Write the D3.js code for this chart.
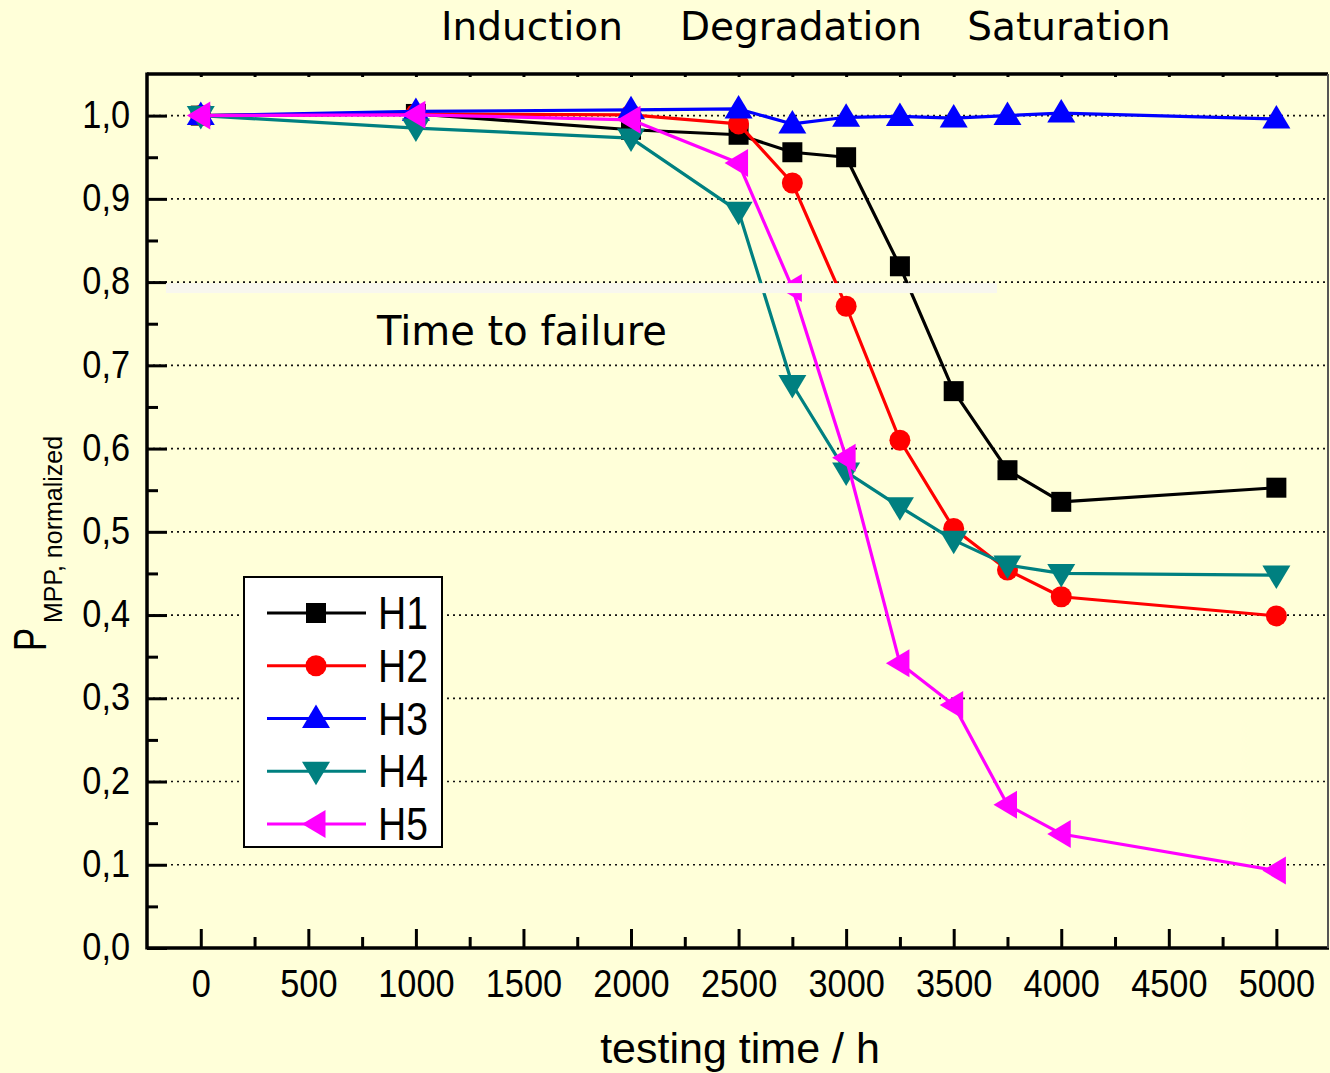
<!DOCTYPE html>
<html><head><meta charset="utf-8">
<script src="https://cdn.jsdelivr.net/npm/d3@7"></script>
<style>body{margin:0;background:#ffffd9;} svg{display:block;}</style>
</head><body>
<svg id="chart" width="1330" height="1073"></svg>
<script>
// ---- data ----
const times = [0, 1000, 2000, 2500, 2750, 3000, 3250, 3500, 3750, 4000, 5000];
const seriesNames = ["H1", "H2", "H3", "H4", "H5"];
const h1 = [1.000, 1.002, 0.983, 0.977, 0.956, 0.950, 0.819, 0.669, 0.574, 0.536, 0.553];
const h2 = [1.000, 1.002, 1.001, 0.990, 0.919, 0.771, 0.610, 0.504, 0.454, 0.422, 0.399];
const h3 = [1.000, 1.005, 1.007, 1.008, 0.990, 0.998, 0.999, 0.997, 1.000, 1.003, 0.996];
const h4 = [1.000, 0.985, 0.973, 0.885, 0.677, 0.572, 0.530, 0.490, 0.460, 0.450, 0.448];
const h5 = [1.000, 1.001, 0.995, 0.943, 0.793, 0.589, 0.342, 0.292, 0.172, 0.137, 0.093];
const seriesValues = [h1, h2, h3, h4, h5];
const seriesColors = ["#000000", "#ff0000", "#0000ff", "#008080", "#ff00ff"];
const seriesShapes = ["square", "circle", "up", "down", "left"];
const xMajorTicks = [0, 500, 1000, 1500, 2000, 2500, 3000, 3500, 4000, 4500, 5000];
const xMinorTicks = [250, 750, 1250, 1750, 2250, 2750, 3250, 3750, 4250, 4750];
const yMajorTicks = [0, 0.1, 0.2, 0.3, 0.4, 0.5, 0.6, 0.7, 0.8, 0.9, 1.0];
const yMinorTicks = [0.05, 0.15, 0.25, 0.35, 0.45, 0.55, 0.65, 0.75, 0.85, 0.95];
const phaseLabels = ["Induction", "Degradation", "Saturation"];
const annotationText = "Time to failure";
const xTitle = "testing time / h";
const yTitleMain = "P";
const yTitleSub = "MPP, normalized";

// ---- layout ----
const L = 147, R = 1328, T = 74, B = 948;
const svg = d3.select("#chart");
svg.append("rect").attr("width", 1330).attr("height", 1073).attr("fill", "#ffffd9");

const x = d3.scaleLinear().domain([-250, 5240]).range([L, R]);
const y = d3.scaleLinear().domain([0, 1.05]).range([B, T]);

function condense(sel, f) {
  sel.each(function () {
    const w = this.getComputedTextLength();
    this.setAttribute("textLength", w * f);
    this.setAttribute("lengthAdjust", "spacingAndGlyphs");
  });
}

// grid lines
svg.append("g").selectAll("line").data(yMajorTicks.filter(d => d > 0)).join("line")
  .attr("x1", L).attr("x2", R).attr("y1", d => y(d)).attr("y2", d => y(d))
  .attr("stroke", "#111").attr("stroke-width", 1.7).attr("stroke-dasharray", "2,4");

// axes
const fmt = d => d3.format(".1f")(d).replace(".", ",");
const gx = svg.append("g").attr("transform", `translate(0,${B})`)
  .call(d3.axisBottom(x).tickValues(xMajorTicks).tickSizeInner(-19).tickSizeOuter(0).tickPadding(21).tickFormat(d3.format("d")));
const gxm = svg.append("g").attr("transform", `translate(0,${B})`)
  .call(d3.axisBottom(x).tickValues(xMinorTicks).tickSizeInner(-11).tickSizeOuter(0).tickFormat(""));
const gy = svg.append("g").attr("transform", `translate(${L},0)`)
  .call(d3.axisLeft(y).tickValues(yMajorTicks).tickSizeInner(-20).tickSizeOuter(0).tickPadding(17).tickFormat(fmt));
const gym = svg.append("g").attr("transform", `translate(${L},0)`)
  .call(d3.axisLeft(y).tickValues(yMinorTicks).tickSizeInner(-11).tickSizeOuter(0).tickFormat(""));
const gtop = svg.append("g").attr("transform", `translate(0,${T})`)
  .call(d3.axisTop(x).tickValues(xMajorTicks.concat(xMinorTicks)).tickSizeInner(-3).tickSizeOuter(0).tickFormat(""));

[gx, gxm, gy, gym, gtop].forEach(g => {
  g.selectAll(".tick line").attr("stroke", "#000").attr("stroke-width", 3);
  g.select(".domain").remove();
});
gx.selectAll(".tick text").attr("font-family", "Liberation Sans, Arial, sans-serif")
  .attr("font-size", 39).attr("fill", "#000").attr("dy", "0.71em");
gy.selectAll(".tick text").attr("font-family", "Liberation Sans, Arial, sans-serif")
  .attr("font-size", 39).attr("fill", "#000").attr("dy", "0.3em");
condense(gx.selectAll(".tick text"), 0.88);
condense(gy.selectAll(".tick text"), 0.88);

// frame
svg.append("line").attr("x1", L).attr("x2", R).attr("y1", T).attr("y2", T).attr("stroke", "#000").attr("stroke-width", 3.5);
svg.append("line").attr("x1", L).attr("x2", R + 1).attr("y1", B).attr("y2", B).attr("stroke", "#000").attr("stroke-width", 3.5);
svg.append("line").attr("x1", L).attr("x2", L).attr("y1", T - 1.5).attr("y2", B + 1.5).attr("stroke", "#000").attr("stroke-width", 3.5);
svg.append("line").attr("x1", R).attr("x2", R).attr("y1", T).attr("y2", B).attr("stroke", "#555").attr("stroke-width", 2);

// markers
function markerPath(shape) {
  switch (shape) {
    case "square": return "M-10,-10H10V10H-10Z";
    case "circle": return d3.symbol(d3.symbolCircle, Math.PI * 10.5 * 10.5)();
    case "up": return "M0,-14L14,9.5L-14,9.5Z";
    case "down": return "M0,14L14,-9.5L-14,-9.5Z";
    case "left": return "M-14,0L9.5,-14L9.5,14Z";
  }
}

const line = d3.line().x(d => x(d[0])).y(d => y(d[1]));
seriesValues.forEach((vals, i) => {
  const pts = times.map((t, j) => [t, vals[j]]);
  const g = svg.append("g");
  g.append("path").attr("d", line(pts)).attr("fill", "none")
    .attr("stroke", seriesColors[i]).attr("stroke-width", 3.2).attr("stroke-linejoin", "round");
  g.selectAll("path.m").data(pts).join("path").attr("class", "m")
    .attr("transform", d => `translate(${x(d[0])},${y(d[1])})`)
    .attr("d", markerPath(seriesShapes[i])).attr("fill", seriesColors[i]);
});

// light strip overlay under 0,8 gridline
svg.append("rect").attr("x", 166).attr("y", y(0.8) + 1).attr("width", 831).attr("height", 10)
  .attr("fill", "#f8f7ee");

// phase labels
const phaseX = [532, 801, 1069];
svg.append("g").selectAll("text").data(phaseLabels).join("text")
  .attr("x", (d, i) => phaseX[i]).attr("y", 40).attr("text-anchor", "middle")
  .attr("font-family", "DejaVu Sans, sans-serif").attr("font-size", 39).attr("fill", "#000")
  .text(d => d);

svg.append("text").attr("x", 377).attr("y", 345)
  .attr("font-family", "DejaVu Sans, sans-serif").attr("font-size", 40).attr("fill", "#000")
  .text(annotationText);

// axis titles
svg.append("text").attr("x", 740).attr("y", 1063).attr("text-anchor", "middle")
  .attr("font-family", "Liberation Sans, Arial, sans-serif").attr("font-size", 43).attr("fill", "#000")
  .text(xTitle);

const pMain = svg.append("text").attr("transform", "translate(46,651) rotate(-90)")
  .attr("font-family", "Liberation Sans, Arial, sans-serif").attr("font-size", 46).attr("fill", "#000")
  .text(yTitleMain);
condense(pMain, 0.75);
const pSub = svg.append("text").attr("transform", "translate(62,623) rotate(-90)")
  .attr("font-family", "Liberation Sans, Arial, sans-serif").attr("font-size", 25).attr("fill", "#000")
  .text(yTitleSub);

// legend
const leg = svg.append("g");
leg.append("rect").attr("x", 244).attr("y", 577).attr("width", 198).attr("height", 270)
  .attr("fill", "#fff").attr("stroke", "#000").attr("stroke-width", 2);
seriesNames.forEach((name, i) => {
  const cy = 613 + i * 52.75;
  leg.append("line").attr("x1", 267).attr("x2", 366).attr("y1", cy).attr("y2", cy)
    .attr("stroke", seriesColors[i]).attr("stroke-width", 3.2);
  leg.append("path").attr("transform", `translate(316,${cy})`).attr("d", markerPath(seriesShapes[i]))
    .attr("fill", seriesColors[i]);
  const t = leg.append("text").attr("x", 378).attr("y", cy + 16)
    .attr("font-family", "Liberation Sans, Arial, sans-serif").attr("font-size", 46).attr("fill", "#000")
    .text(name);
  condense(t, 0.85);
});
</script>
</body></html>
